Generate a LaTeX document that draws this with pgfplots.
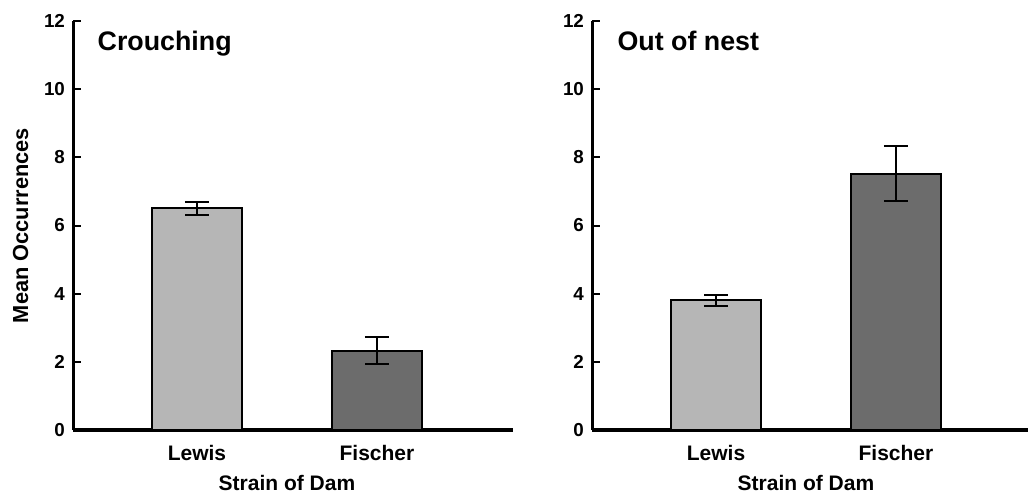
\documentclass[border=0pt]{standalone}
\usepackage{pgfplots}
\pgfplotsset{compat=1.18}
\usepackage{fontspec}
\setmainfont{Liberation Sans}

\definecolor{lightbar}{RGB}{182,182,182}
\definecolor{darkbar}{RGB}{108,108,108}

\pgfplotsset{
  dampanel/.style={
    scale only axis,
    width=220pt, height=204.5pt,
    anchor=south west,
    xmin=-0.689, xmax=1.756,
    ymin=0, ymax=12,
    ytick={0,2,...,12},
    xtick={0,1},
    xticklabels={Lewis,Fischer},
    axis x line=bottom, axis y line=left,
    axis line style={-, line width=1.5pt},
    x axis line style={line width=1.6pt},
    xtick style={draw=none},
    ytick style={line width=1pt, black},
    tick align=inside,
    major tick length=4pt,
    /pgf/number format/assume math mode=true,
    ticklabel style={font=\bfseries\fontsize{9.4}{11}\selectfont},
    yticklabel style={xshift=-0.5pt},
    xticklabel style={font=\bfseries\fontsize{10.5}{12}\selectfont, yshift=0pt},
    xlabel={Strain of Dam},
    xlabel style={font=\bfseries\fontsize{10.5}{12}\selectfont,
      at={(axis cs:0.5,0)}, anchor=north, yshift=-19pt},
    ybar, bar width=45pt,
    error bars/y dir=both, error bars/y explicit,
    error bars/error bar style={line width=1pt, black},
    error bars/error mark options={rotate=90, mark size=6pt, line width=1pt, black},
    clip=false,
  },
}

\begin{document}
\begin{tikzpicture}
\useasboundingbox (0,0) rectangle (514pt,247pt);

\begin{axis}[dampanel, at={(36.5pt,32pt)},
  ylabel={Mean Occurrences},
  ylabel style={font=\bfseries\fontsize{10.9}{12}\selectfont, xshift=0pt, yshift=1pt}]
  \addplot[fill=lightbar, draw=black, line width=1pt, bar shift=0pt]
    coordinates {(0,6.5) +- (0,0.2)};
  \addplot[fill=darkbar, draw=black, line width=1pt, bar shift=0pt]
    coordinates {(1,2.33) +- (0,0.4)};
  \node[anchor=base west, font=\bfseries\fontsize{13.4}{15}\selectfont]
    at (rel axis cs:0.04,0.929) {Crouching};
\end{axis}

\begin{axis}[dampanel, at={(296pt,32pt)}]
  \addplot[fill=lightbar, draw=black, line width=1pt, bar shift=0pt]
    coordinates {(0,3.8) +- (0,0.15)};
  \addplot[fill=darkbar, draw=black, line width=1pt, bar shift=0pt]
    coordinates {(1,7.52) +- (0,0.8)};
  \node[anchor=base west, font=\bfseries\fontsize{13.4}{15}\selectfont]
    at (rel axis cs:0.042,0.929) {Out of nest};
\end{axis}
\end{tikzpicture}
\end{document}
